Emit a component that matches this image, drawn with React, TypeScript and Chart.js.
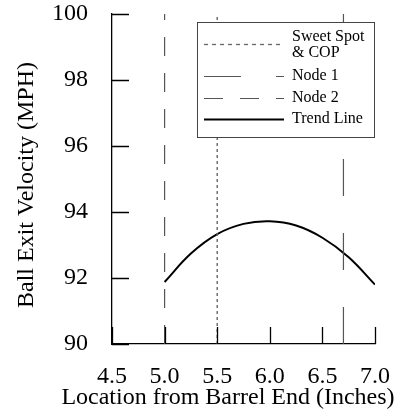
import React, { useEffect, useRef } from "react";
import { Chart, registerables } from "chart.js";

Chart.register(...registerables);

// Trend line: ball exit velocity along the barrel
const trendX = [5.0, 5.25, 5.5, 5.75, 6.0, 6.25, 6.5, 6.75, 7.0];
const trendY = [91.88, 92.74, 93.33, 93.64, 93.72, 93.59, 93.22, 92.63, 91.8];

// Vertical marker positions (inches from barrel end)
const sweetSpotX = 5.5;
const node1X = 6.7;
const node2X = 5.0;

// Axis ranges and ticks
const xRange = [4.5, 7.0];
const yRange = [90, 100];
const xTicks = [4.5, 5.0, 5.5, 6.0, 6.5, 7.0];
const yTicks = [90, 92, 94, 96, 98, 100];

const xTitle = "Location from Barrel End (Inches)";
const yTitle = "Ball Exit Velocity (MPH)";
const legendLabels = [["Sweet Spot", "& COP"], ["Node 1"], ["Node 2"], ["Trend Line"]];

const SERIF = '"Liberation Serif", "Times New Roman", serif';

const vline = (x: number) => [
  { x, y: yRange[0] },
  { x, y: yRange[1] },
];

// Inward tick marks on both axes
const inwardTicks = {
  id: "inwardTicks",
  afterDatasetsDraw(chart: any) {
    const { ctx, chartArea, scales } = chart;
    const len = 17;
    ctx.save();
    ctx.strokeStyle = "#000";
    ctx.lineWidth = 1.3;
    ctx.beginPath();
    xTicks.forEach((v) => {
      const px = Math.round(scales.x.getPixelForValue(v)) + 0.5;
      ctx.moveTo(px, chartArea.bottom);
      ctx.lineTo(px, chartArea.bottom - len);
    });
    yTicks.forEach((v) => {
      const py = Math.round(scales.y.getPixelForValue(v)) + 0.5;
      ctx.moveTo(chartArea.left, py);
      ctx.lineTo(chartArea.left + len, py);
    });
    ctx.stroke();
    ctx.restore();
  },
};

// Boxed legend inside the plot area
const boxLegend = {
  id: "boxLegend",
  afterDatasetsDraw(chart: any) {
    const { ctx, chartArea } = chart;
    const left = chartArea.left + 85;
    const top = chartArea.top + 8;
    const w = 177;
    const h = 115;
    ctx.save();
    ctx.fillStyle = "#fff";
    ctx.fillRect(left, top, w, h);
    ctx.strokeStyle = "#444";
    ctx.lineWidth = 1;
    ctx.strokeRect(left + 0.5, top + 0.5, w, h);

    const x1 = left + 7;
    const x2 = left + 87;
    const tx = left + 95;
    const rows = [
      { sampleY: top + 22, textY: [top + 15, top + 31], dash: [4, 4], color: "#666", width: 1.3 },
      { sampleY: top + 54, textY: [top + 54], dash: [37, 35], color: "#555", width: 1.2 },
      { sampleY: top + 76, textY: [top + 76], dash: [19, 17], color: "#555", width: 1.2 },
      { sampleY: top + 97, textY: [top + 97], dash: [], color: "#000", width: 2 },
    ];
    ctx.font = `16px ${SERIF}`;
    ctx.textBaseline = "middle";
    ctx.textAlign = "left";
    rows.forEach((r, i) => {
      ctx.beginPath();
      ctx.setLineDash(r.dash);
      ctx.strokeStyle = r.color;
      ctx.lineWidth = r.width;
      ctx.moveTo(x1, r.sampleY + 0.5);
      ctx.lineTo(x2, r.sampleY + 0.5);
      ctx.stroke();
      ctx.setLineDash([]);
      ctx.fillStyle = "#000";
      legendLabels[i].forEach((t, j) => ctx.fillText(t, tx, r.textY[j]));
    });
    ctx.restore();
  },
};

// Axis titles
const axisTitles = {
  id: "axisTitles",
  afterDraw(chart: any) {
    const { ctx, chartArea } = chart;
    ctx.save();
    ctx.fillStyle = "#000";
    ctx.font = `24px ${SERIF}`;
    ctx.textAlign = "center";
    ctx.textBaseline = "middle";
    ctx.fillText(xTitle, chartArea.left + 116, chartArea.bottom + 54);
    ctx.translate(chartArea.left - 85, chartArea.top + 171);
    ctx.rotate(-Math.PI / 2);
    ctx.fillText(yTitle, 0, 0);
    ctx.restore();
  },
};

export default function App() {
  const ref = useRef<HTMLCanvasElement | null>(null);

  useEffect(() => {
    if (!ref.current) return;
    const tickFont = { family: SERIF, size: 24 };
    const chart = new Chart(ref.current, {
      type: "line",
      data: {
        datasets: [
          {
            label: "Sweet Spot & COP",
            data: vline(sweetSpotX),
            borderColor: "#666",
            borderWidth: 1.4,
            borderDash: [3, 3],
            pointRadius: 0,
          },
          {
            label: "Node 1",
            data: vline(node1X),
            borderColor: "#555",
            borderWidth: 1.2,
            borderDash: [37, 37],
            pointRadius: 0,
          },
          {
            label: "Node 2",
            data: vline(node2X),
            borderColor: "#555",
            borderWidth: 1.2,
            borderDash: [19, 17],
            pointRadius: 0,
          },
          {
            label: "Trend Line",
            data: trendX.map((x, i) => ({ x, y: trendY[i] })),
            borderColor: "#000",
            borderWidth: 2,
            pointRadius: 0,
            tension: 0.4,
          },
        ],
      },
      options: {
        responsive: false,
        animation: false,
        devicePixelRatio: 1,
        layout: { padding: { left: 0, top: 14, right: 29, bottom: 0 } },
        plugins: { legend: { display: false }, tooltip: { enabled: false } },
        scales: {
          x: {
            type: "linear",
            min: xRange[0],
            max: xRange[1],
            afterBuildTicks: (s: any) => {
              s.ticks = xTicks.map((value) => ({ value }));
            },
            afterFit: (s: any) => {
              s.height = 74;
              s.paddingLeft = 0;
              s.paddingRight = 0;
            },
            ticks: {
              font: tickFont,
              color: "#000",
              padding: 18,
              maxRotation: 0,
              autoSkip: false,
              callback: (v: any) => Number(v).toFixed(1),
            },
            grid: { display: false, drawTicks: false },
            border: { display: true, color: "#000", width: 1.3 },
          },
          y: {
            type: "linear",
            min: yRange[0],
            max: yRange[1],
            afterBuildTicks: (s: any) => {
              s.ticks = yTicks.map((value) => ({ value }));
            },
            afterFit: (s: any) => {
              s.width = 112;
              s.paddingTop = 0;
              s.paddingBottom = 0;
            },
            ticks: {
              font: tickFont,
              color: "#000",
              padding: 24,
              autoSkip: false,
            },
            grid: { display: false, drawTicks: false },
            border: { display: true, color: "#000", width: 1.3 },
          },
        },
      },
      plugins: [inwardTicks, boxLegend, axisTitles],
    } as any);
    return () => chart.destroy();
  }, []);

  return (
    <div style={{ position: "fixed", left: 0, top: 0, width: 404, height: 418, background: "#fff" }}>
      <canvas ref={ref} width={404} height={418} />
    </div>
  );
}
